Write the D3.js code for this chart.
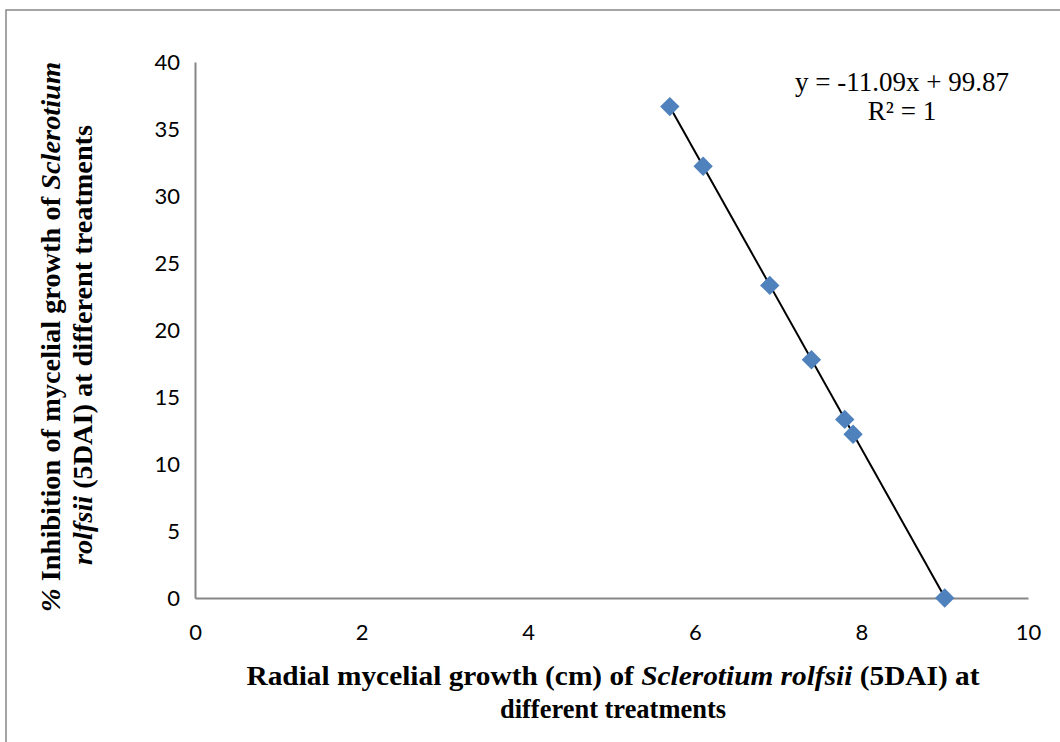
<!DOCTYPE html>
<html>
<head>
<meta charset="utf-8">
<script src="https://cdn.jsdelivr.net/npm/d3@7"></script>
<style>
  body { margin: 0; background: #fff; }
  .tick text { font-family: Lato, "Open Sans", sans-serif; font-size: 22px; fill: #000; }
  .ttl { font-family: "Liberation Serif", "Times New Roman", serif; font-weight: bold; font-size: 28px; fill: #000; }
</style>
</head>
<body>
<div class="plot"></div>
<script>
// data
var growth = [5.7, 6.1, 6.9, 7.4, 7.8, 7.9, 9.0];          // radial growth (cm)
var inhibition = [36.67, 32.22, 23.33, 17.78, 13.33, 12.22, 0]; // % inhibition
var xTicks = [0, 2, 4, 6, 8, 10];
var yTicks = [0, 5, 10, 15, 20, 25, 30, 35, 40];
var slope = -11.09, intercept = 99.87;
var eqLines = ["y = -11.09x + 99.87", "R² = 1"];

var W = 1060, H = 742;
var svg = d3.select(".plot").append("svg")
    .attr("width", W).attr("height", H);

// chart frame (only left and top show in the picture)
svg.append("rect")
    .attr("x", 6).attr("y", 10)
    .attr("width", W + 20).attr("height", H + 20)
    .attr("fill", "none")
    .attr("stroke", "#868686")
    .attr("stroke-width", 1.5);

var x = d3.scaleLinear().domain([0, 10]).range([195, 1028]);
var y = d3.scaleLinear().domain([0, 40]).range([598, 62]);

// axes
svg.append("g")
    .attr("transform", "translate(0," + y(0) + ")")
    .call(d3.axisBottom(x).tickValues(xTicks).tickSize(0).tickPadding(26).tickFormat(d3.format("d")));
svg.append("g")
    .attr("transform", "translate(" + x(0) + ",0)")
    .call(d3.axisLeft(y).tickValues(yTicks).tickSize(0).tickPadding(15).tickFormat(d3.format("d")));
svg.selectAll(".domain").attr("stroke", "#868686").attr("stroke-width", 2);

// trendline
var xs = d3.extent(growth);
svg.append("line")
    .attr("x1", x(xs[0])).attr("y1", y(slope * xs[0] + intercept))
    .attr("x2", x(xs[1])).attr("y2", y(slope * xs[1] + intercept))
    .attr("stroke", "#000").attr("stroke-width", 2);

// diamond markers
var pts = growth.map(function(g, i) { return {x: g, y: inhibition[i]}; });
svg.selectAll(".pt").data(pts).enter().append("path")
    .attr("class", "pt")
    .attr("d", d3.symbol().type(d3.symbolDiamond2).size(240))
    .attr("transform", function(d) { return "translate(" + x(d.x) + "," + y(d.y) + ")"; })
    .attr("fill", "#4F81BD");

// equation
svg.selectAll(".eq").data(eqLines).enter().append("text")
    .attr("x", 902)
    .attr("y", function(d, i) { return 91 + i * 29; })
    .attr("text-anchor", "middle")
    .style("font-family", "'Liberation Serif', 'Times New Roman', serif")
    .style("font-size", "27px")
    .text(function(d) { return d; });

// x title
var xt = svg.append("text").attr("class", "ttl")
    .attr("x", 613).attr("y", 685).attr("text-anchor", "middle")
    .attr("textLength", 733).attr("lengthAdjust", "spacingAndGlyphs");
xt.append("tspan").text("Radial mycelial growth (cm) of ");
xt.append("tspan").style("font-style", "italic").text("Sclerotium rolfsii");
xt.append("tspan").text(" (5DAI) at");
svg.append("text").attr("class", "ttl")
    .attr("x", 613).attr("y", 718).attr("text-anchor", "middle")
    .attr("textLength", 226).attr("lengthAdjust", "spacingAndGlyphs")
    .text("different treatments");

// y title
var yt1 = svg.append("text").attr("class", "ttl")
    .attr("transform", "translate(60,337) rotate(-90)")
    .attr("text-anchor", "middle")
    .attr("textLength", 550).attr("lengthAdjust", "spacingAndGlyphs");
yt1.append("tspan").style("font-style", "italic").text("%");
yt1.append("tspan").text(" Inhibition of mycelial growth of ");
yt1.append("tspan").style("font-style", "italic").text("Sclerotium");
var yt2 = svg.append("text").attr("class", "ttl")
    .attr("transform", "translate(92,345) rotate(-90)")
    .attr("text-anchor", "middle")
    .attr("textLength", 440).attr("lengthAdjust", "spacingAndGlyphs");
yt2.append("tspan").style("font-style", "italic").text("rolfsii");
yt2.append("tspan").text(" (5DAI) at different treatments");
</script>
</body>
</html>
